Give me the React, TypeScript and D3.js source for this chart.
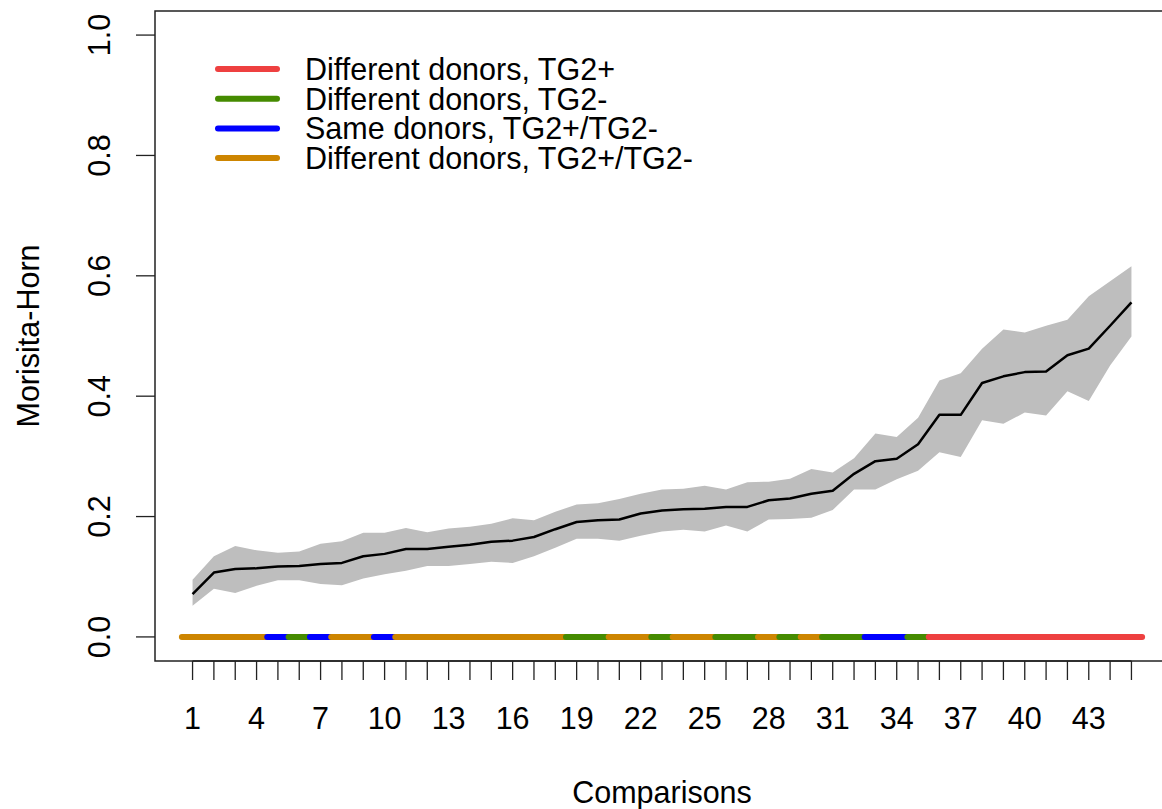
import React, { useEffect, useRef } from 'react';
import * as d3 from 'd3';

// Morisita-Horn overlap per pairwise comparison (sorted by mean)
const comparisons = d3.range(1, 46);

const meanMH = [0.071, 0.107, 0.113, 0.114, 0.117, 0.118, 0.121, 0.123, 0.134, 0.138,
    0.146, 0.146, 0.150, 0.153, 0.158, 0.160, 0.166, 0.179, 0.191, 0.194,
    0.195, 0.205, 0.210, 0.212, 0.213, 0.216, 0.216, 0.227, 0.230, 0.238,
    0.243, 0.271, 0.292, 0.296, 0.320, 0.369, 0.369, 0.422, 0.433, 0.440,
    0.441, 0.468, 0.479, 0.517, 0.556];

const upperMH = [0.095, 0.134, 0.151, 0.144, 0.140, 0.142, 0.155, 0.159, 0.173, 0.173,
    0.181, 0.174, 0.180, 0.183, 0.188, 0.197, 0.194, 0.208, 0.220, 0.222,
    0.229, 0.238, 0.245, 0.246, 0.251, 0.245, 0.257, 0.258, 0.263, 0.279,
    0.273, 0.297, 0.338, 0.332, 0.364, 0.426, 0.438, 0.479, 0.511, 0.506,
    0.517, 0.527, 0.566, 0.591, 0.616];

const lowerMH = [0.052, 0.080, 0.073, 0.085, 0.094, 0.094, 0.088, 0.086, 0.097, 0.104,
    0.110, 0.118, 0.118, 0.121, 0.125, 0.123, 0.134, 0.148, 0.163, 0.163,
    0.160, 0.168, 0.175, 0.178, 0.175, 0.185, 0.175, 0.195, 0.196, 0.198,
    0.211, 0.245, 0.245, 0.262, 0.276, 0.307, 0.299, 0.360, 0.354, 0.373,
    0.368, 0.408, 0.392, 0.451, 0.499];

// 0 = diff TG2+, 1 = diff TG2-, 2 = same donor, 3 = diff TG2+/TG2-
const pairType = [3, 3, 3, 3, 2, 1, 2, 3, 3, 2,
    3, 3, 3, 3, 3, 3, 3, 3, 1, 1,
    3, 3, 1, 3, 3, 1, 1, 3, 1, 3,
    1, 1, 2, 2, 1, 0, 0, 0, 0, 0,
    0, 0, 0, 0, 0];

const legendLabels = ['Different donors, TG2+', 'Different donors, TG2-',
    'Same donors, TG2+/TG2-', 'Different donors, TG2+/TG2-'];
const legendColors = ['#EE4040', '#458B00', '#0000FF', '#CD8500'];

const yTicks = [0, 0.2, 0.4, 0.6, 0.8, 1.0];
const xLabelTicks = d3.range(1, 46, 3);

export default function App() {
    const ref = useRef<SVGSVGElement>(null);

    useEffect(() => {
        const width = 1162;
        const height = 809;
        const font = '"Liberation Sans", Arial, Helvetica, sans-serif';
        const fs = 30.5;

        const svg = d3.select(ref.current);
        svg.selectAll('*').remove();

        // R style: 4% padding around the data range
        const x = d3.scaleLinear().domain([1 - 44 * 0.04, 45 + 44 * 0.04]).range([155, 1169]);
        const y = d3.scaleLinear().domain([-0.04, 1.04]).range([661, 11]);

        const rows = comparisons.map((c, i) => ({
            c, mean: meanMH[i], lo: lowerMH[i], hi: upperMH[i], type: pairType[i]
        }));

        const band = d3.area<typeof rows[0]>()
            .x(d => x(d.c))
            .y0(d => y(d.lo))
            .y1(d => y(d.hi));

        svg.append('path')
            .attr('d', band(rows))
            .attr('fill', '#BEBEBE');

        const line = d3.line<typeof rows[0]>()
            .x(d => x(d.c))
            .y(d => y(d.mean));

        svg.append('path')
            .attr('d', line(rows))
            .attr('fill', 'none')
            .attr('stroke', 'black')
            .attr('stroke-width', 2.5)
            .attr('stroke-linejoin', 'round');

        // comparison type strip along zero
        svg.append('g')
            .selectAll('line')
            .data(rows)
            .join('line')
            .attr('x1', d => x(d.c - 0.5))
            .attr('x2', d => x(d.c + 0.5))
            .attr('y1', y(0))
            .attr('y2', y(0))
            .attr('stroke', d => legendColors[d.type])
            .attr('stroke-width', 6)
            .attr('stroke-linecap', 'round');

        // box
        svg.append('rect')
            .attr('x', x.range()[0])
            .attr('y', y.range()[1])
            .attr('width', x.range()[1] - x.range()[0])
            .attr('height', y.range()[0] - y.range()[1])
            .attr('fill', 'none')
            .attr('stroke', '#222')
            .attr('stroke-width', 1.5);

        // x axis
        const xAxis = svg.append('g');
        xAxis.append('line')
            .attr('x1', x(1)).attr('x2', x(45))
            .attr('y1', 661).attr('y2', 661)
            .attr('stroke', '#222').attr('stroke-width', 1.5);
        xAxis.selectAll('line.tick')
            .data(comparisons)
            .join('line')
            .attr('class', 'tick')
            .attr('x1', d => x(d)).attr('x2', d => x(d))
            .attr('y1', 661).attr('y2', 680)
            .attr('stroke', '#222').attr('stroke-width', 1.3);
        xAxis.selectAll('text')
            .data(xLabelTicks)
            .join('text')
            .attr('x', d => x(d))
            .attr('y', 729)
            .attr('text-anchor', 'middle')
            .style('font', `${fs}px ${font}`)
            .text(d => d);

        // y axis
        const yAxis = svg.append('g');
        yAxis.selectAll('line')
            .data(yTicks)
            .join('line')
            .attr('x1', 136).attr('x2', 155)
            .attr('y1', d => y(d)).attr('y2', d => y(d))
            .attr('stroke', '#222').attr('stroke-width', 1.3);
        yAxis.selectAll('text')
            .data(yTicks)
            .join('text')
            .attr('transform', d => `translate(110,${y(d)}) rotate(-90)`)
            .attr('text-anchor', 'middle')
            .style('font', `${fs}px ${font}`)
            .text(d => d.toFixed(1));

        svg.append('text')
            .attr('transform', `translate(39,${y(0.5)}) rotate(-90)`)
            .attr('text-anchor', 'middle')
            .style('font', `${fs}px ${font}`)
            .text('Morisita-Horn');

        svg.append('text')
            .attr('x', x(23))
            .attr('y', 803)
            .attr('text-anchor', 'middle')
            .style('font', `${fs}px ${font}`)
            .text('Comparisons');

        // legend
        const legend = svg.append('g')
            .selectAll('g')
            .data(legendLabels)
            .join('g')
            .attr('transform', (d, i) => `translate(0,${69 + i * 29.7})`);
        legend.append('line')
            .attr('x1', 218).attr('x2', 277)
            .attr('stroke', (d, i) => legendColors[i])
            .attr('stroke-width', 6)
            .attr('stroke-linecap', 'round');
        legend.append('text')
            .attr('x', 305)
            .attr('y', 11)
            .style('font', `${fs}px ${font}`)
            .text(d => d);

        svg.attr('width', width).attr('height', height);
    });

    return (
        <svg ref={ref} width={1162} height={809}
            style={{ position: 'absolute', left: 0, top: 0, background: 'white' }} />
    );
}
